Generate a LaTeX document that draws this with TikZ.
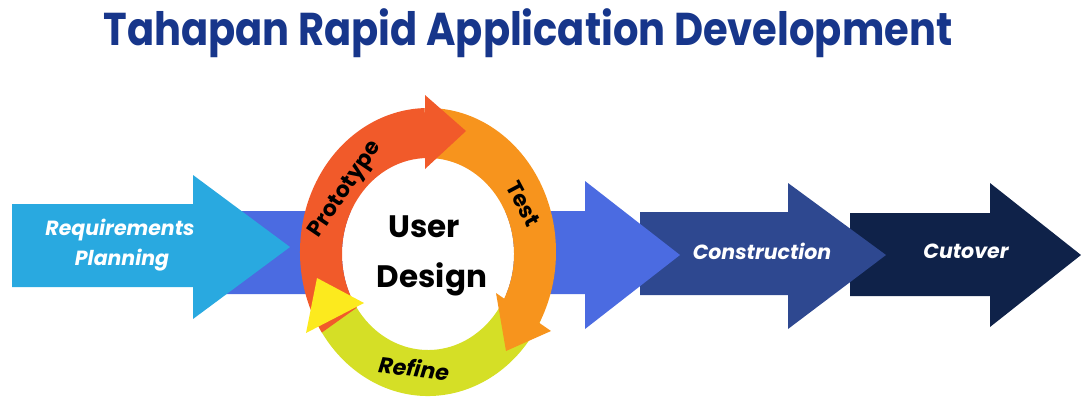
\documentclass[tikz,border=0pt]{standalone}
\usepackage{fontspec}
\setmainfont{Poppins}
\usetikzlibrary{calc}
\definecolor{lblue}{HTML}{29A9E0}
\definecolor{mblue}{HTML}{4B6BE1}
\definecolor{cblue}{HTML}{2E4890}
\definecolor{dblue}{HTML}{0F2249}
\definecolor{redc}{HTML}{F15A2A}
\definecolor{orac}{HTML}{F7941D}
\definecolor{grnc}{HTML}{D5DF26}
\definecolor{yelc}{HTML}{FCEA1E}
\definecolor{titc}{HTML}{17368B}
\tikzset{
  wlbl/.style={text=white, font=\bfseries\itshape\fontsize{20.5}{24}\selectfont, anchor=base, inner sep=0pt},
  ringlbl/.style={text=black, font=\bfseries\fontsize{22}{26}\selectfont, inner sep=0pt},
  centerlbl/.style={text=black, font=\bfseries\fontsize{31}{36}\selectfont, anchor=base, inner sep=0pt}
}
\begin{document}
\begin{tikzpicture}[x=1pt,y=-1pt]
\useasboundingbox (0,0) rectangle (1081,397);
\coordinate (O) at (428,252);
\coordinate (I) at (428,254);
% title
\node[text=titc, font=\bfseries\fontsize{46}{50}\selectfont, anchor=base, inner sep=0pt, xscale=0.87] (title) at (528,45) {Tahapan Rapid Application Development};
% arrows
\fill[dblue] (850,213) -- (990,213) -- (990,183) -- (1081,255) -- (990,327) -- (990,296) -- (850,296) -- cycle;
\fill[cblue] (640,212) -- (788,212) -- (788,183) -- (886,255) -- (788,329) -- (788,295) -- (640,295) -- cycle;
\fill[mblue] (200,211) -- (585,211) -- (585,181) -- (680,255) -- (585,329) -- (585,294) -- (200,294) -- cycle;
\fill[lblue] (12,204) -- (193,204) -- (193,175) -- (290,247) -- (193,319) -- (193,287) -- (12,287) -- cycle;
% ring interior
\fill[white] (I) ellipse[x radius=86, y radius=96];
% ring bodies
\fill[grnc] ($(O)+(28:128 and 144)$) arc[start angle=28, end angle=148, x radius=128, y radius=144]
  -- ($(I)+(148:86 and 96)$) arc[start angle=148, end angle=28, x radius=86, y radius=96] -- cycle;
\fill[orac] ($(O)+(268.5:128 and 144)$) arc[start angle=268.5, end angle=391, x radius=128, y radius=144]
  -- ($(I)+(391:86 and 96)$) arc[start angle=391, end angle=268.5, x radius=86, y radius=96] -- cycle;
\fill[redc] ($(O)+(146:128 and 144)$) arc[start angle=146, end angle=268.5, x radius=128, y radius=144]
  -- ($(I)+(268.5:86 and 96)$) arc[start angle=268.5, end angle=146, x radius=86, y radius=96] -- cycle;
% heads
\fill[orac] (551,331) -- (506,351) -- (496,293) -- cycle;
\fill[redc] (425,95) -- (466,131) -- (425,169) -- cycle;
\fill[yelc] (317,278) -- (364,303) -- (306,333) -- cycle;
% labels
\node[wlbl] (req) at (120,235) {Requirements};
\node[wlbl] (plan) at (122,265) {Planning};
\node[wlbl] (cons) at (762,259) {Construction};
\node[wlbl] (cut) at (966,258) {Cutover};
\node[ringlbl, rotate=56] (proto) at (346,190) {Prototype};
\node[ringlbl, rotate=-62] (test) at (523,204) {Test};
\node[ringlbl, rotate=-7, font=\bfseries\itshape\fontsize{22}{26}\selectfont] (refine) at (414,368) {Refine};
\node[centerlbl] (user) at (424,237) {User};
\node[centerlbl] (design) at (432,287) {Design};
\end{tikzpicture}
\end{document}
